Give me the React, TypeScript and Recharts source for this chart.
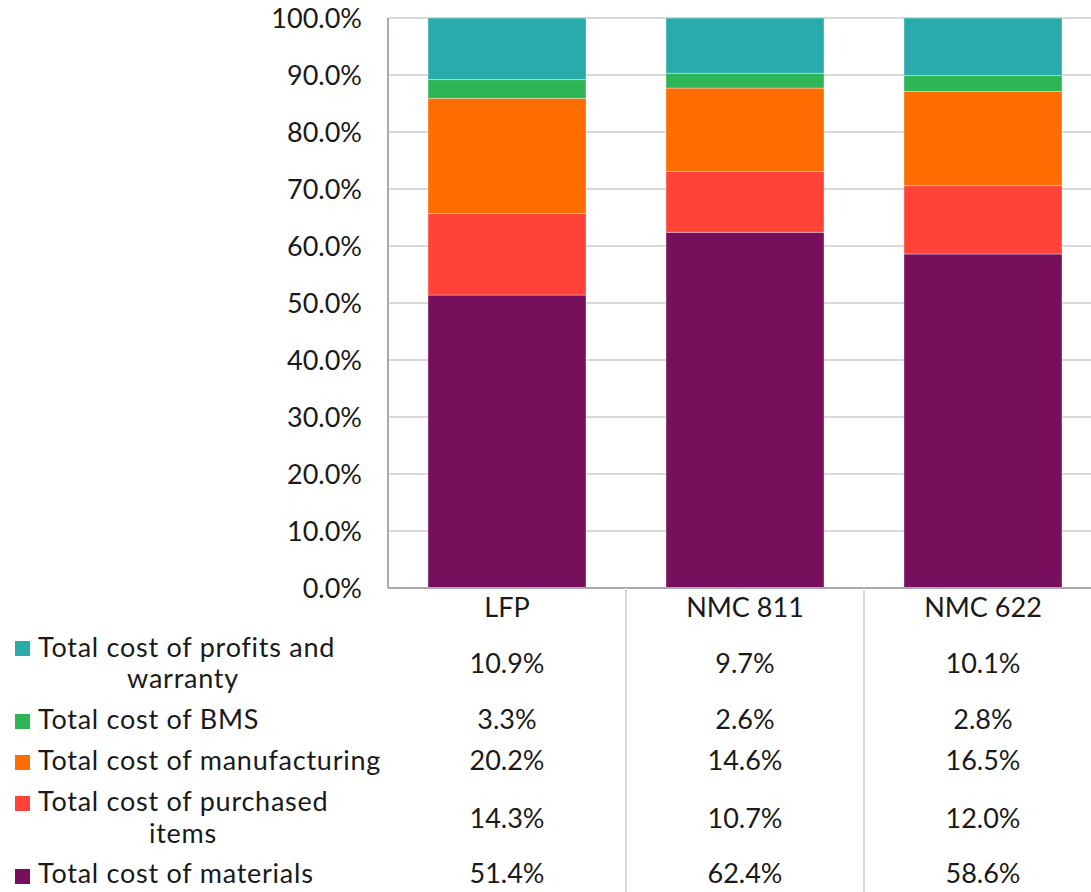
import { BarChart, Bar, XAxis, YAxis, CartesianGrid } from "recharts";

// categories and stacked shares (%)
const categories = ["LFP", "NMC 811", "NMC 622"];
const materials = [51.4, 62.4, 58.6];
const purchased = [14.3, 10.7, 12.0];
const manufacturing = [20.2, 14.6, 16.5];
const bms = [3.3, 2.6, 2.8];
const profits = [10.9, 9.7, 10.1];
const yTicks = [0, 10, 20, 30, 40, 50, 60, 70, 80, 90, 100];

const theme = {
  materials: "#770f5c",
  purchased: "#ff4339",
  manufacturing: "#ff6d00",
  bms: "#2eb656",
  profits: "#29abab",
  grid: "#d9d9d9",
  axis: "#a8a8b8",
  text: "#1a1a1a",
};

const data = categories.map((name, i) => ({
  name,
  materials: materials[i],
  purchased: purchased[i],
  manufacturing: manufacturing[i],
  bms: bms[i],
  profits: profits[i],
}));

// table rows, top to bottom (same order as the stack, top first)
const rows = [
  { key: "profits", lines: ["Total cost of profits and", "warranty"], values: profits, label: [657, 688], val: 673, box: 641 },
  { key: "bms", lines: ["Total cost of BMS"], values: bms, label: [729], val: 729, box: 714 },
  { key: "manufacturing", lines: ["Total cost of manufacturing"], values: manufacturing, label: [770], val: 770, box: 755 },
  { key: "purchased", lines: ["Total cost of purchased", "items"], values: purchased, label: [811, 843], val: 828, box: 796 },
  { key: "materials", lines: ["Total cost of materials"], values: materials, label: [883], val: 883, box: 869 },
];

const font = "Lato, 'Open Sans', sans-serif";
const fs = 27;

const TableTick = (props: any) => {
  const { x, payload } = props;
  const i = categories.indexOf(payload.value);
  return (
    <g>
      {i < categories.length - 1 && (
        <line x1={x + 119} x2={x + 119} y1={588} y2={892} stroke={theme.grid} strokeWidth={2} />
      )}
      <text x={x} y={617} textAnchor="middle" fontSize={fs} fontFamily={font} fill={theme.text}>
        {payload.value}
      </text>
      {rows.map((r) => (
        <text key={r.key} x={x} y={r.val} textAnchor="middle" fontSize={fs} fontFamily={font} fill={theme.text}>
          {r.values[i].toFixed(1)}%
        </text>
      ))}
    </g>
  );
};

const TableLegend = () => (
  <svg width={388} height={892} style={{ position: "absolute", left: 0, top: 0 }}>
    {rows.map((r) => (
      <g key={r.key}>
        <rect x={15} y={r.box} width={15} height={15} fill={(theme as any)[r.key]} />
        {r.lines.map((t, j) => (
          <text
            key={j}
            x={j === 0 ? 38 : 183}
            y={r.label[j]}
            textAnchor={j === 0 ? "start" : "middle"}
            fontSize={fs}
            fontFamily={font}
            letterSpacing={0.75}
            fill={theme.text}
          >
            {t}
          </text>
        ))}
      </g>
    ))}
  </svg>
);

export default function App() {
  return (
    <div style={{ position: "absolute", left: 0, top: 0, width: 1091, height: 892, overflow: "hidden", background: "#fff" }}>
      <BarChart width={1102} height={892} data={data} margin={{ top: 18, right: 0, bottom: 0, left: 0 }}>
        <CartesianGrid vertical={false} stroke={theme.grid} strokeWidth={2} />
        <XAxis
          dataKey="name"
          height={304}
          axisLine={{ stroke: theme.axis, strokeWidth: 2 }}
          tickLine={false}
          tick={<TableTick />}
          interval={0}
        />
        <YAxis
          width={388}
          domain={[0, 100]}
          ticks={yTicks}
          allowDataOverflow
          axisLine={{ stroke: theme.axis, strokeWidth: 2 }}
          tickLine={false}
          tickSize={0}
          tickMargin={26}
          tickFormatter={(v: number) => `${v.toFixed(1)}%`}
          tick={{ fontSize: fs, fontFamily: font, fill: theme.text }}
        />
        <Bar dataKey="materials" stackId="a" fill={theme.materials} barSize={158} stroke="#ffffff" strokeOpacity={0.35} isAnimationActive={false} />
        <Bar dataKey="purchased" stackId="a" fill={theme.purchased} barSize={158} stroke="#ffffff" strokeOpacity={0.35} isAnimationActive={false} />
        <Bar dataKey="manufacturing" stackId="a" fill={theme.manufacturing} barSize={158} stroke="#ffffff" strokeOpacity={0.35} isAnimationActive={false} />
        <Bar dataKey="bms" stackId="a" fill={theme.bms} barSize={158} stroke="#ffffff" strokeOpacity={0.35} isAnimationActive={false} />
        <Bar dataKey="profits" stackId="a" fill={theme.profits} barSize={158} stroke="#ffffff" strokeOpacity={0.35} isAnimationActive={false} />
      </BarChart>
      <TableLegend />
    </div>
  );
}
